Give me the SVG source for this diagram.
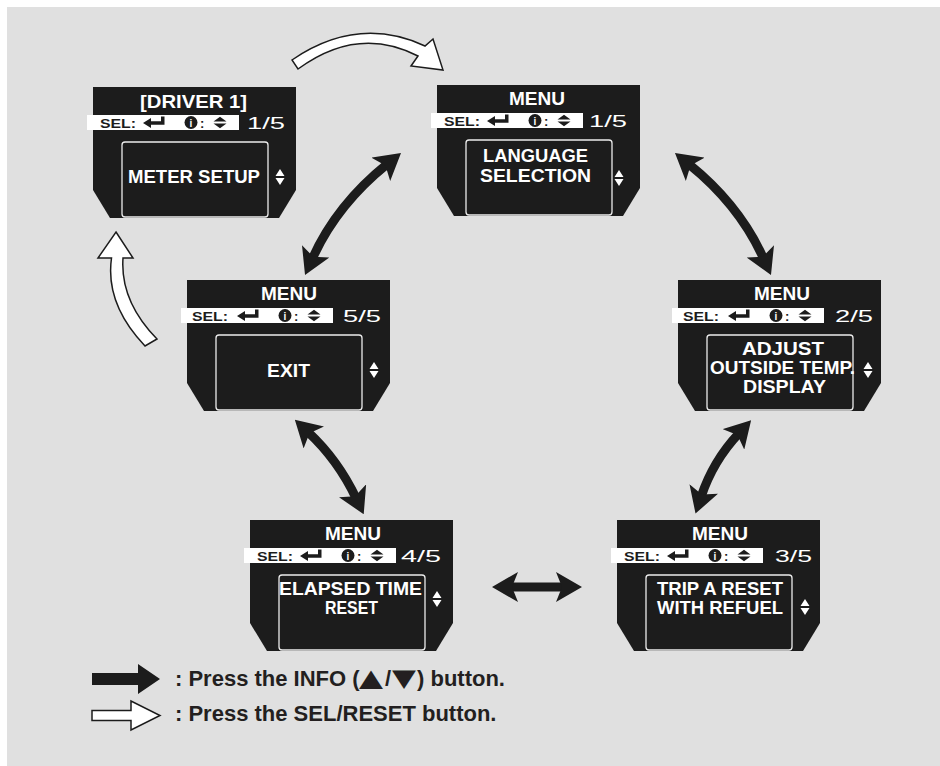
<svg xmlns="http://www.w3.org/2000/svg" xmlns:xlink="http://www.w3.org/1999/xlink" width="940" height="766" viewBox="0 0 940 766">
<defs>
<style>
.bg{fill:#e0e0e0}
.blk{fill:#1c1c1c}
.band{fill:#ffffff}
.inner{fill:none;stroke:#ececec;stroke-width:1.3}
.ttl{font-family:"Liberation Sans",Arial,sans-serif;font-weight:bold;font-size:18px;fill:#ffffff}
.sel{font-family:"Liberation Sans",Arial,sans-serif;font-weight:bold;font-size:13px;fill:#1c1c1c}
.ic{font-family:"Liberation Sans",Arial,sans-serif;font-weight:bold;font-size:10px;fill:#ffffff}
.num{font-family:"Liberation Sans",Arial,sans-serif;font-size:17px;fill:#ffffff}
.body{font-family:"Liberation Sans",Arial,sans-serif;font-weight:bold;font-size:18px;fill:#ffffff}
.wd{fill:#ffffff}
.shaft{fill:none;stroke:#1c1c1c;stroke-width:9}
.warrow{fill:#ffffff;stroke:#1c1c1c;stroke-width:1.5;stroke-linejoin:miter}
.leg{font-family:"Liberation Sans",Arial,sans-serif;font-weight:bold;font-size:22px;fill:#231f20}
.tri{font-family:"DejaVu Sans",sans-serif;font-size:24px;fill:#231f20}
</style>
<marker id="head" viewBox="0 0 26 30" refX="8" refY="15" markerWidth="26" markerHeight="30" markerUnits="userSpaceOnUse" orient="auto-start-reverse">
<path d="M0,0 L26,15 L0,30 L6,15 Z" fill="#1c1c1c"/>
</marker>
<g id="frame">
<path class="blk" d="M0,0 H203 V103 L186,131 H17 L0,103 Z"/>
<rect class="band" x="-6" y="28" width="152" height="15"/>
<rect class="inner" x="29" y="55" width="146" height="75" rx="3"/>
<path class="blk" d="M50,36 L58,31 L58,34.3 L68,34.3 L68,29.5 L71.5,29.5 L71.5,37.7 L58,37.7 L58,41 Z"/>
<circle class="blk" cx="98" cy="35.5" r="6.5"/>
<path class="blk" d="M120.5,34.6 L127,29.8 L133.5,34.6 Z M120.5,36.6 L127,41.2 L133.5,36.6 Z"/>
</g>
</defs>

<rect class="bg" x="7" y="7" width="933" height="759"/>

<g id="screen-driver">
<g transform="translate(93,87)">
<use xlink:href="#frame" href="#frame"/>
<text class="ttl" x="47" y="21" font-size="19" textLength="107" lengthAdjust="spacingAndGlyphs">[DRIVER 1]</text>
<text class="sel" x="7" y="41" textLength="36" lengthAdjust="spacingAndGlyphs">SEL:</text>
<text class="ic" x="98" y="39.5" text-anchor="middle">i</text>
<text class="sel" x="107" y="40.5">:</text>
<text class="num" x="154" y="42" textLength="38" lengthAdjust="spacingAndGlyphs">1/5</text>
<text class="body" x="35" y="96" font-size="20" textLength="132" lengthAdjust="spacingAndGlyphs">METER SETUP</text>
<path class="wd" d="M182.5,89 L187,82 L191.5,89 Z M182.5,91 L187,98 L191.5,91 Z"/>
</g>
</g>

<g id="screen-language">
<g transform="translate(437,85)">
<use xlink:href="#frame" href="#frame"/>
<text class="ttl" x="72" y="20" textLength="56" lengthAdjust="spacingAndGlyphs">MENU</text>
<text class="sel" x="7" y="41" textLength="36" lengthAdjust="spacingAndGlyphs">SEL:</text>
<text class="ic" x="98" y="39.5" text-anchor="middle">i</text>
<text class="sel" x="107" y="40.5">:</text>
<text class="num" x="152" y="42" textLength="38" lengthAdjust="spacingAndGlyphs">1/5</text>
<text class="body" x="46" y="77" font-size="17" textLength="105" lengthAdjust="spacingAndGlyphs">LANGUAGE</text>
<text class="body" x="43" y="97" font-size="17" textLength="111" lengthAdjust="spacingAndGlyphs">SELECTION</text>
<path class="wd" d="M177.5,92 L182,85 L186.5,92 Z M177.5,94 L182,101 L186.5,94 Z"/>
</g>
</g>

<g id="screen-exit">
<g transform="translate(187,280)">
<use xlink:href="#frame" href="#frame"/>
<text class="ttl" x="74" y="20" textLength="56" lengthAdjust="spacingAndGlyphs">MENU</text>
<text class="sel" x="5" y="41" textLength="36" lengthAdjust="spacingAndGlyphs">SEL:</text>
<text class="ic" x="98" y="39.5" text-anchor="middle">i</text>
<text class="sel" x="107" y="40.5">:</text>
<text class="num" x="156" y="42" textLength="38" lengthAdjust="spacingAndGlyphs">5/5</text>
<text class="body" x="80" y="97" textLength="43" lengthAdjust="spacingAndGlyphs">EXIT</text>
<path class="wd" d="M182.5,89 L187,82 L191.5,89 Z M182.5,91 L187,98 L191.5,91 Z"/>
</g>
</g>

<g id="screen-adjust">
<g transform="translate(678,280)">
<use xlink:href="#frame" href="#frame"/>
<text class="ttl" x="76" y="20" textLength="56" lengthAdjust="spacingAndGlyphs">MENU</text>
<text class="sel" x="5" y="41" textLength="36" lengthAdjust="spacingAndGlyphs">SEL:</text>
<text class="ic" x="98" y="39.5" text-anchor="middle">i</text>
<text class="sel" x="107" y="40.5">:</text>
<text class="num" x="157" y="42" textLength="38" lengthAdjust="spacingAndGlyphs">2/5</text>
<text class="body" x="64" y="75" font-size="17" textLength="82" lengthAdjust="spacingAndGlyphs">ADJUST</text>
<text class="body" x="32" y="94" font-size="17" textLength="145" lengthAdjust="spacingAndGlyphs">OUTSIDE TEMP.</text>
<text class="body" x="65" y="113" font-size="17" textLength="83" lengthAdjust="spacingAndGlyphs">DISPLAY</text>
<path class="wd" d="M185.5,89 L190,82 L194.5,89 Z M185.5,91 L190,98 L194.5,91 Z"/>
</g>
</g>

<g id="screen-elapsed">
<g transform="translate(250,520)">
<use xlink:href="#frame" href="#frame"/>
<text class="ttl" x="75" y="20" textLength="56" lengthAdjust="spacingAndGlyphs">MENU</text>
<text class="sel" x="7" y="41" textLength="36" lengthAdjust="spacingAndGlyphs">SEL:</text>
<text class="ic" x="98" y="39.5" text-anchor="middle">i</text>
<text class="sel" x="107" y="40.5">:</text>
<text class="num" x="151" y="42" textLength="40" lengthAdjust="spacingAndGlyphs">4/5</text>
<text class="body" x="29" y="75" textLength="143" lengthAdjust="spacingAndGlyphs">ELAPSED TIME</text>
<text class="body" x="75" y="94" textLength="53" lengthAdjust="spacingAndGlyphs">RESET</text>
<path class="wd" d="M182.5,78 L187,71 L191.5,78 Z M182.5,80 L187,87 L191.5,80 Z"/>
</g>
</g>

<g id="screen-trip">
<g transform="translate(617,520)">
<use xlink:href="#frame" href="#frame"/>
<text class="ttl" x="75" y="20" textLength="56" lengthAdjust="spacingAndGlyphs">MENU</text>
<text class="sel" x="7" y="41" textLength="36" lengthAdjust="spacingAndGlyphs">SEL:</text>
<text class="ic" x="98" y="39.5" text-anchor="middle">i</text>
<text class="sel" x="107" y="40.5">:</text>
<text class="num" x="158" y="42" textLength="37" lengthAdjust="spacingAndGlyphs">3/5</text>
<text class="body" x="40" y="75" textLength="126" lengthAdjust="spacingAndGlyphs">TRIP A RESET</text>
<text class="body" x="40" y="94" textLength="126" lengthAdjust="spacingAndGlyphs">WITH REFUEL</text>
<path class="wd" d="M183.5,86 L188,79 L192.5,86 Z M183.5,88 L188,95 L192.5,88 Z"/>
</g>
</g>

<g id="connectors">
<path class="warrow" d="M292,60 Q358,15 425,46 L433,39 L443,70 L411,66 L418,56 Q358,25 298,69 Z"/>
<path class="warrow" d="M116,232 L133,258 L123,258 Q120,301 157,339 L145,346 Q105,304 111.5,258 L98,258 Z"/>
<path class="shaft" d="M387,164.3 Q336.5,205 312.4,258.6" marker-start="url(#head)" marker-end="url(#head)"/>
<path class="shaft" d="M689,164.3 Q739.5,205 763.6,258.6" marker-start="url(#head)" marker-end="url(#head)"/>
<path class="shaft" d="M308,432 Q338,460 356,498" marker-start="url(#head)" marker-end="url(#head)"/>
<path class="shaft" d="M738.8,433.5 Q713,461 701.2,496.5" marker-start="url(#head)" marker-end="url(#head)"/>
<path class="shaft" d="M510,587 L564,587" marker-start="url(#head)" marker-end="url(#head)"/>
</g>

<g id="legend">
<path class="blk" d="M92,673 H138 V664 L160,679 L138,694 V685 H92 Z"/>
<path class="warrow" d="M92,710.5 H131 V701 L160,715.5 L131,730 V720.5 H92 Z"/>
<text class="leg" x="175" y="685.5">: Press the INFO (</text>
<text class="tri" transform="translate(359,685.5) scale(1.3,1)">▲</text>
<text class="leg" x="385" y="685.5">/</text>
<text class="tri" transform="translate(392,685.5) scale(1.3,1)">▼</text>
<text class="leg" x="417" y="685.5">) button.</text>
<text class="leg" x="175" y="721">: Press the SEL/RESET button.</text>
</g>
</svg>
